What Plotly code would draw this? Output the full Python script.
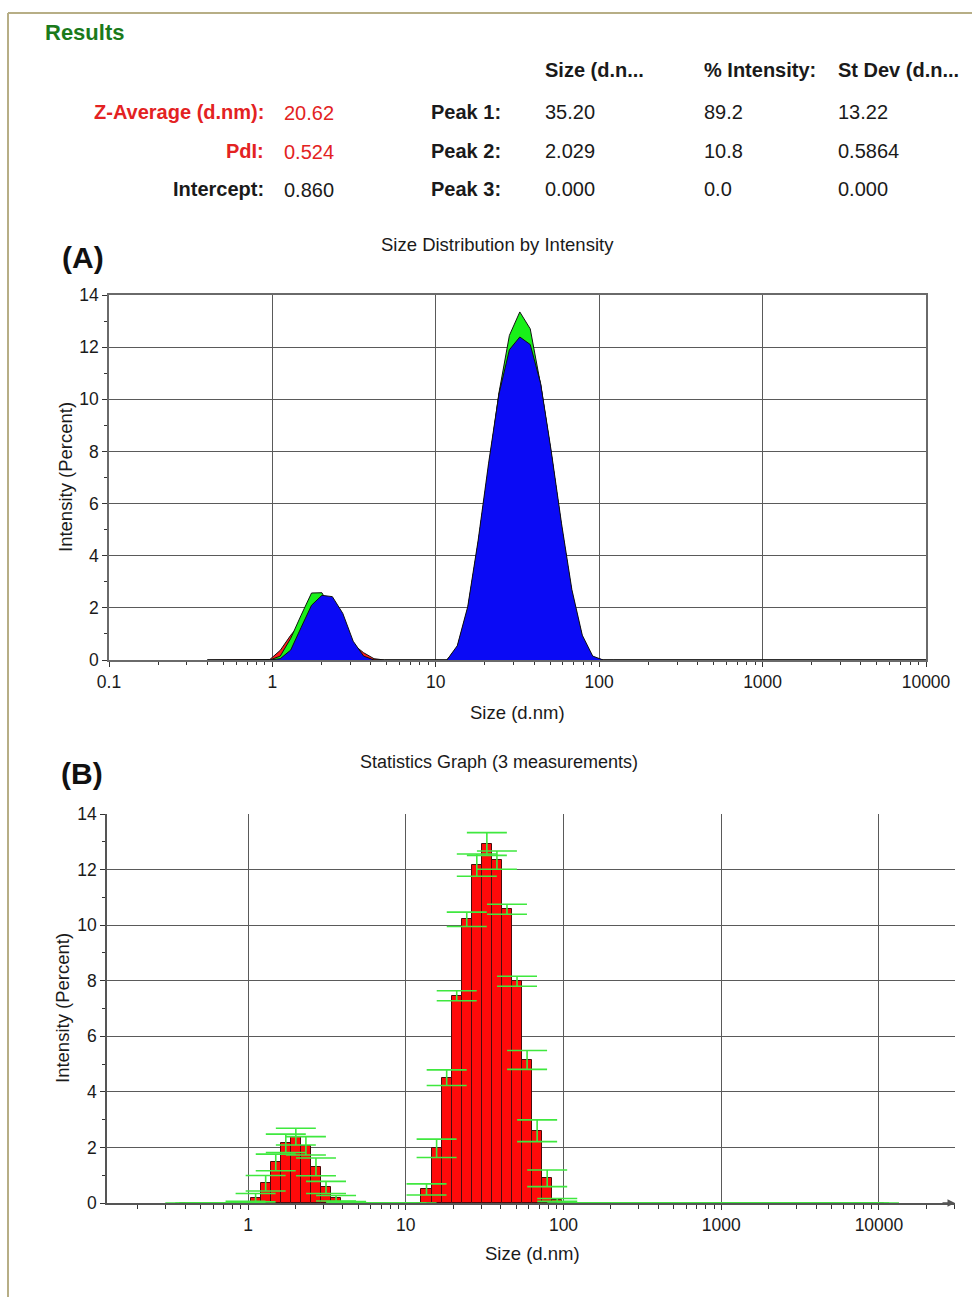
import math
import plotly.graph_objects as go

W, H = 972, 1297


def px(x):
    return x / W


def py(y):
    return 1 - y / H


FONT = "Liberation Sans, Arial, sans-serif"

# ---------------- data ----------------
size_nm = [0.4, 0.4632, 0.5365, 0.6213, 0.7195, 0.8332, 0.9649, 1.117, 1.294, 1.499,
           1.736, 2.01, 2.328, 2.696, 3.122, 3.615, 4.187, 4.849, 5.615, 6.503,
           7.531, 8.721, 10.1, 11.7, 13.54, 15.69, 18.17, 21.04, 24.36, 28.21,
           32.67, 37.84, 43.82, 50.75, 58.77, 68.06, 78.82, 91.28, 105.7, 122.4,
           141.8, 164.2, 190.1, 220.2, 255.0, 295.3, 342.0, 396.1, 458.7, 531.2,
           615.1, 712.4, 825.0, 955.4, 1106, 1281, 1484, 1718, 1990, 2305,
           2669, 3091, 3580, 4145, 4801, 5560, 6439, 7456, 8635, 10000]

run_red = [0, 0, 0, 0, 0, 0, 0.02, 0.37, 0.95, 1.42,
           1.80, 2.10, 1.90, 1.12, 0.60, 0.28, 0.05, 0, 0, 0,
           0, 0, 0, 0, 0.50, 1.96, 4.48, 7.43, 10.18, 12.13,
           13.02, 12.22, 10.56, 7.94, 5.10, 2.55, 0.87, 0.08, 0, 0,
           0, 0, 0, 0, 0, 0, 0, 0, 0, 0,
           0, 0, 0, 0, 0, 0, 0, 0, 0, 0,
           0, 0, 0, 0, 0, 0, 0, 0, 0, 0]

run_green = [0, 0, 0, 0, 0, 0, 0, 0.15, 0.83, 1.72,
             2.57, 2.58, 1.85, 1.00, 0.38, 0.08, 0, 0, 0, 0,
             0, 0, 0, 0, 0.45, 1.90, 4.45, 7.40, 10.25, 12.45,
             13.35, 12.70, 10.55, 7.95, 5.10, 2.55, 0.85, 0.10, 0, 0,
             0, 0, 0, 0, 0, 0, 0, 0, 0, 0,
             0, 0, 0, 0, 0, 0, 0, 0, 0, 0,
             0, 0, 0, 0, 0, 0, 0, 0, 0, 0]

run_blue = [0, 0, 0, 0, 0, 0, 0, 0.05, 0.38, 1.25,
            2.10, 2.48, 2.43, 1.79, 0.72, 0.15, 0, 0, 0, 0,
            0, 0, 0, 0, 0.55, 2.05, 4.60, 7.55, 10.20, 11.90,
            12.39, 12.10, 10.60, 8.05, 5.25, 2.70, 0.95, 0.15, 0, 0,
            0, 0, 0, 0, 0, 0, 0, 0, 0, 0,
            0, 0, 0, 0, 0, 0, 0, 0, 0, 0,
            0, 0, 0, 0, 0, 0, 0, 0, 0, 0]

stat_mean = [0, 0, 0, 0, 0, 0, 0.03, 0.19, 0.71, 1.46,
             2.15, 2.39, 2.06, 1.30, 0.56, 0.17, 0.02, 0, 0, 0,
             0, 0, 0, 0, 0.49, 1.97, 4.51, 7.46, 10.21, 12.16,
             12.92, 12.34, 10.57, 7.98, 5.15, 2.60, 0.89, 0.11, 0, 0,
             0, 0, 0, 0, 0, 0, 0, 0, 0, 0,
             0, 0, 0, 0, 0, 0, 0, 0, 0, 0,
             0, 0, 0, 0, 0, 0, 0, 0, 0, 0]

stat_sd = [0, 0, 0, 0, 0, 0, 0.03, 0.15, 0.28, 0.30,
           0.33, 0.30, 0.33, 0.32, 0.22, 0.10, 0.03, 0, 0, 0,
           0, 0, 0, 0, 0.20, 0.33, 0.28, 0.18, 0.26, 0.40,
           0.41, 0.33, 0.18, 0.18, 0.34, 0.39, 0.30, 0.05, 0, 0,
           0, 0, 0, 0, 0, 0, 0, 0, 0, 0,
           0, 0, 0, 0, 0, 0, 0, 0, 0, 0,
           0, 0, 0, 0, 0, 0, 0, 0, 0, 0]

major_sizes = [0.1, 1, 10, 100, 1000, 10000]
major_labels = ["0.1", "1", "10", "100", "1000", "10000"]
y_ticks = [0, 2, 4, 6, 8, 10, 12, 14]
y_minor = [1, 3, 5, 7, 9, 11, 13]

results_labels = ["Z-Average (d.nm):", "PdI:", "Intercept:"]
results_values = ["20.62", "0.524", "0.860"]
results_colors = ["#e32222", "#e32222", "#1a1a1a"]
peak_labels = ["Peak 1:", "Peak 2:", "Peak 3:"]
peak_size = ["35.20", "2.029", "0.000"]
peak_intensity = ["89.2", "10.8", "0.0"]
peak_stdev = ["13.22", "0.5864", "0.000"]
col_headers = ["Size (d.n...", "% Intensity:", "St Dev (d.n..."]

# ---------------- figure ----------------
fig = go.Figure()

# (A) size distribution by intensity, three runs
for vals, col in [(run_red, "#ff1c1c"), (run_green, "#19f019"), (run_blue, "#0a0af5")]:
    fig.add_trace(go.Scatter(
        x=size_nm, y=vals, mode="lines",
        line=dict(color="#111111", width=1),
        fill="tozeroy", fillcolor=col,
        xaxis="x", yaxis="y", showlegend=False, hoverinfo="skip"))

# (B) statistics graph
log_size = [math.log10(s) for s in size_nm]
bin_step = log_size[1] - log_size[0]
fig.add_trace(go.Bar(
    x=log_size, y=stat_mean, width=bin_step,
    marker=dict(color="#ff0a0a", line=dict(color="#4a0c0c", width=1)),
    error_y=dict(type="data", array=stat_sd, visible=True,
                 color="#3fe83f", thickness=1.6, width=20),
    xaxis="x2", yaxis="y2", showlegend=False, hoverinfo="skip"))

minor_log_a = [k * 10 ** e for e in range(-1, 4) for k in range(2, 10)]
minor_log_b = [math.log10(k * 10 ** e) for e in range(-1, 5) for k in range(2, 10)
               if -0.894 < math.log10(k * 10 ** e) < 4.482]

axis_font = dict(family=FONT, size=17.5, color="#1a1a1a")

fig.update_layout(
    template="none",
    width=W, height=H,
    autosize=False,
    margin=dict(l=0, r=0, t=0, b=0, pad=0, autoexpand=False),
    paper_bgcolor="white", plot_bgcolor="white",
    font=dict(family=FONT, color="#222222"),
    showlegend=False,
    bargap=0,
    xaxis=dict(
        type="log", range=[-1, 4], domain=[px(109), px(926)], anchor="y",
        automargin=False,
        showline=True, mirror=True, linecolor="#6a6a6a", linewidth=1.5,
        showgrid=True, gridcolor="#5a5a5a", gridwidth=1.3, zeroline=False,
        tickmode="array", tickvals=major_sizes, ticktext=major_labels,
        ticks="outside", ticklen=5, tickcolor="#333", tickfont=axis_font,
        minor=dict(tickmode="array", tickvals=minor_log_a, ticks="outside",
                   ticklen=3, tickcolor="#333", showgrid=False),
    ),
    yaxis=dict(
        range=[0, 14], domain=[py(660), py(295)], anchor="x",
        automargin=False,
        showline=True, mirror=True, linecolor="#6a6a6a", linewidth=1.5,
        showgrid=True, gridcolor="#5a5a5a", gridwidth=1.3, zeroline=False,
        tickmode="array", tickvals=y_ticks,
        ticks="outside", ticklen=5, tickcolor="#333", tickfont=axis_font,
        minor=dict(tickmode="array", tickvals=y_minor, ticks="outside",
                   ticklen=3, tickcolor="#333", showgrid=False),
    ),
    xaxis2=dict(
        range=[-0.894, 4.482], domain=[px(107), px(955)], anchor="y2",
        automargin=False,
        showline=True, mirror=False, linecolor="#555555", linewidth=1.5,
        showgrid=True, gridcolor="#5a5a5a", gridwidth=1.3, zeroline=False,
        tickmode="array", tickvals=[0, 1, 2, 3, 4],
        ticktext=["1", "10", "100", "1000", "10000"],
        ticks="outside", ticklen=5, tickcolor="#333", tickfont=axis_font,
        minor=dict(tickmode="array", tickvals=minor_log_b, ticks="outside",
                   ticklen=4, tickcolor="#333", showgrid=False),
        layer="below traces",
    ),
    yaxis2=dict(
        range=[0, 14], domain=[py(1203), py(814)], anchor="x2",
        automargin=False,
        showline=True, mirror=False, linecolor="#555555", linewidth=1.5,
        showgrid=True, gridcolor="#5a5a5a", gridwidth=1.3, zeroline=False,
        tickmode="array", tickvals=y_ticks,
        ticks="outside", ticklen=5, tickcolor="#333", tickfont=axis_font,
        minor=dict(tickmode="array", tickvals=y_minor, ticks="outside",
                   ticklen=3, tickcolor="#333", showgrid=False),
        layer="below traces",
    ),
)

ann = []


def text(x, y, s, size=20, color="#1a1a1a", bold=False, xanchor="left", angle=0):
    ann.append(dict(
        x=px(x), y=py(y), xref="paper", yref="paper", text=("<b>%s</b>" % s) if bold else s,
        showarrow=False, xanchor=xanchor, yanchor="middle", textangle=angle,
        font=dict(family=FONT, size=size, color=color)))


text(43, 32, "Results", size=22, color="#1b7a1b", bold=True)
for s, x in zip(col_headers, [543, 702, 836]):
    text(x, 70, s, bold=True)
row_y = [112, 151, 189]
for i, yy in enumerate(row_y):
    text(266, yy, results_labels[i], color=results_colors[i], bold=True, xanchor="right")
    text(282, yy + 1, results_values[i], color=results_colors[i])
    text(503, yy, peak_labels[i], bold=True, xanchor="right")
    text(543, yy, peak_size[i])
    text(702, yy, peak_intensity[i])
    text(836, yy, peak_stdev[i])

text(83, 257, "(A)", size=30, color="#111111", bold=True, xanchor="center")
text(82, 773, "(B)", size=30, color="#111111", bold=True, xanchor="center")
text(497, 245, "Size Distribution by Intensity", size=18.5, xanchor="center")
text(499, 762, "Statistics Graph (3 measurements)", size=18, xanchor="center")
text(65, 477, "Intensity (Percent)", size=18.5, xanchor="center", angle=-90)
text(62, 1008, "Intensity (Percent)", size=18.5, xanchor="center", angle=-90)
text(517, 712, "Size (d.nm)", size=18.5, xanchor="center")
text(532, 1253, "Size (d.nm)", size=18.5, xanchor="center")

# arrow head at the end of the statistics x axis
ann.append(dict(x=4.482, y=0, xref="x2", yref="y2", text="", showarrow=True,
                ax=-14, ay=0, arrowhead=2, arrowsize=1, arrowwidth=1.5,
                arrowcolor="#555555"))

fig.update_layout(annotations=ann)

# page frame lines
fig.update_layout(shapes=[
    dict(type="line", xref="paper", yref="paper", x0=px(8), x1=1, y0=py(13), y1=py(13),
         line=dict(color="#b7ae86", width=2)),
    dict(type="line", xref="paper", yref="paper", x0=px(8), x1=px(8), y0=py(13), y1=0,
         line=dict(color="#b7ae86", width=2)),
])

fig.write_html("out.html")
